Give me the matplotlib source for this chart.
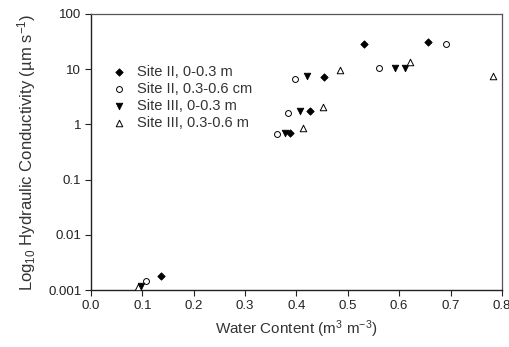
import numpy as np
import matplotlib
matplotlib.use('Agg')
from matplotlib import pyplot as plt
from matplotlib.ticker import FixedLocator, FixedFormatter, NullLocator

plt.rcParams['font.family'] = ['Liberation Sans', 'DejaVu Sans']
plt.rcParams['mathtext.fontset'] = 'custom'
plt.rcParams['mathtext.rm'] = 'Liberation Sans'
plt.rcParams['mathtext.it'] = 'Liberation Sans:italic'

# Site II, 0-0.3 m
wc_s2_top = [0.137, 0.387, 0.426, 0.453, 0.531, 0.657]
k_s2_top = [0.0018, 0.69, 1.72, 7.25, 28.0, 30.5]
# Site II, 0.3-0.6 cm
wc_s2_sub = [0.108, 0.363, 0.384, 0.397, 0.561, 0.692]
k_s2_sub = [0.00144, 0.67, 1.6, 6.7, 10.6, 29.0]
# Site III, 0-0.3 m
wc_s3_top = [0.097, 0.377, 0.407, 0.421, 0.592, 0.612]
k_s3_top = [0.0012, 0.70, 1.72, 7.5, 10.3, 10.6]
# Site III, 0.3-0.6 m
wc_s3_sub = [0.091, 0.413, 0.451, 0.485, 0.622, 0.783]
k_s3_sub = [0.00115, 0.85, 2.1, 9.6, 13.4, 7.4]

xticks = [0.0, 0.1, 0.2, 0.3, 0.4, 0.5, 0.6, 0.7, 0.8]
yticks = [0.001, 0.01, 0.1, 1, 10, 100]
ylabels = ['0.001', '0.01', '0.1', '1', '10', '100']

fig = plt.figure(figsize=(5.09, 3.47), dpi=100)
ax = fig.add_axes([0.1788, 0.164, 0.8072, 0.796])

ax.scatter(wc_s2_top, k_s2_top, marker='D', s=14, c='black', edgecolors='black', linewidths=0.6,
           label='Site II, 0-0.3 m', zorder=3)
ax.scatter(wc_s2_sub, k_s2_sub, marker='o', s=18, facecolors='white', edgecolors='black', linewidths=0.7,
           label='Site II, 0.3-0.6 cm', zorder=3)
ax.scatter(wc_s3_top, k_s3_top, marker='v', s=22, c='black', edgecolors='black', linewidths=0.6,
           label='Site III, 0-0.3 m', zorder=3)
ax.scatter(wc_s3_sub, k_s3_sub, marker='^', s=22, facecolors='white', edgecolors='black', linewidths=0.7,
           label='Site III, 0.3-0.6 m', zorder=3)

ax.set_yscale('log')
ax.set_xlim(0, 0.8)
ax.set_ylim(0.001, 100)
ax.xaxis.set_major_locator(FixedLocator(xticks))
ax.set_xticklabels(['%.1f' % v for v in xticks])
ax.yaxis.set_major_locator(FixedLocator(yticks))
ax.yaxis.set_major_formatter(FixedFormatter(ylabels))
ax.yaxis.set_minor_locator(NullLocator())
ax.tick_params(axis='both', direction='out', length=4, width=0.8, labelsize=9.5,
               colors='#222222', pad=3)

for side in ['left', 'bottom']:
    ax.spines[side].set_color('#222222')
    ax.spines[side].set_linewidth(1.0)
for side in ['top', 'right']:
    ax.spines[side].set_color('#555555')
    ax.spines[side].set_linewidth(0.9)

ax.set_xlabel('Water Content (m$^3$ m$^{-3}$)', fontsize=11, color='#333333', labelpad=5)
ax.set_ylabel('Log$_{10}$ Hydraulic Conductivity (µm s$^{-1}$)', fontsize=12, color='#333333', labelpad=7)

ax.legend(loc='upper left', bbox_to_anchor=(0.033, 0.835), frameon=False, fontsize=10.5,
          handletextpad=0.63, labelspacing=0.2, borderaxespad=0, handlelength=1.2,
          labelcolor='#333333')

fig.savefig('out.png', dpi=100)
